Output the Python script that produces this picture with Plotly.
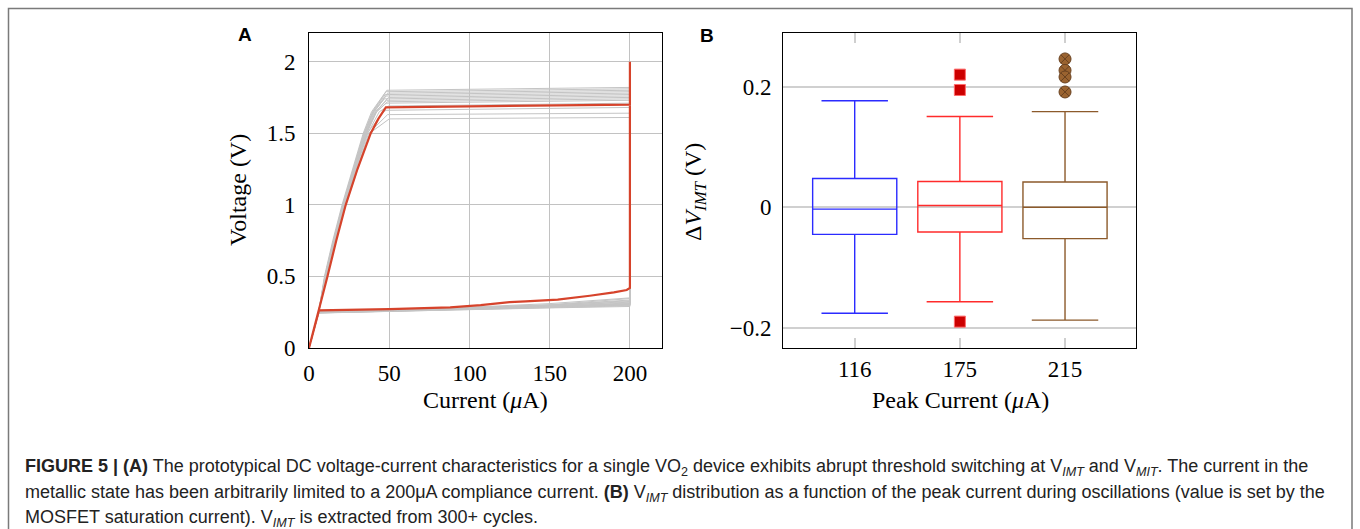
import plotly.graph_objects as go

# ---------------- Panel A data ----------------
# red (prototypical) sweep: current (uA) / voltage (V)
red_current = [0, 6.25, 11.5, 17.0, 22.9, 30.2, 38.5, 43.2, 46.5, 47.9, 100, 150, 200, 200, 200,
               198, 190, 175, 155, 135, 125, 107, 88, 50, 6.25, 0]
red_voltage = [0, 0.263, 0.5, 0.75, 1.0, 1.25, 1.5, 1.6, 1.655, 1.68, 1.688, 1.694, 1.70, 2.0, 0.42,
               0.405, 0.388, 0.365, 0.338, 0.325, 0.32, 0.30, 0.284, 0.272, 0.263, 0]

# gray cycles (one value per cycle)
gray_knee_x      = [48.5, 48.0, 49.0, 47.5, 48.0, 49.5, 47.0, 48.5, 49.0, 48.0, 49.5, 48.0, 49.0, 50.0]
gray_knee_v      = [1.80, 1.79, 1.78, 1.77, 1.76, 1.75, 1.74, 1.73, 1.72, 1.71, 1.69, 1.66, 1.63, 1.60]
gray_end_v       = [1.82, 1.81, 1.80, 1.79, 1.78, 1.77, 1.76, 1.75, 1.74, 1.73, 1.71, 1.68, 1.64, 1.61]
gray_x_at_05v    = [9.6, 9.9, 10.1, 9.9, 10.2, 10.4, 10.0, 10.3, 10.5, 10.2, 10.5, 10.4, 10.7, 10.9]
gray_x_at_075v   = [14.8, 15.2, 15.5, 15.2, 15.7, 16.0, 15.3, 15.8, 16.1, 15.7, 16.2, 16.0, 16.4, 16.7]
gray_x_at_1v     = [20.6, 21.0, 21.4, 21.0, 21.6, 22.0, 21.2, 21.8, 22.2, 21.6, 22.3, 22.0, 22.6, 23.0]
gray_x_at_125v   = [27.0, 27.5, 28.0, 27.5, 28.3, 28.8, 27.7, 28.5, 29.0, 28.4, 29.3, 29.0, 29.8, 30.3]
gray_x_at_15v    = [33.8, 34.3, 34.9, 34.3, 35.3, 35.9, 34.5, 35.4, 36.0, 35.5, 36.6, 36.3, 37.2, 37.8]
gray_x_at_165v   = [39.0, 39.6, 40.3, 39.8, 40.8, 41.6, 40.2, 41.4, 42.2, 42.0, 43.8, 46.5, 49.0, 50.0]
gray_low_start   = [0.245, 0.25, 0.248, 0.255, 0.245, 0.25, 0.252, 0.258, 0.25, 0.246, 0.25, 0.255, 0.248, 0.244]
gray_low_50      = [0.255, 0.26, 0.258, 0.262, 0.256, 0.26, 0.262, 0.266, 0.26, 0.257, 0.26, 0.264, 0.258, 0.255]
gray_low_100     = [0.268, 0.275, 0.272, 0.28, 0.27, 0.276, 0.279, 0.285, 0.274, 0.27, 0.276, 0.282, 0.272, 0.268]
gray_low_150     = [0.28, 0.29, 0.288, 0.3, 0.285, 0.295, 0.3, 0.31, 0.29, 0.286, 0.294, 0.302, 0.288, 0.282]
gray_low_end     = [0.29, 0.305, 0.31, 0.335, 0.3, 0.32, 0.33, 0.35, 0.315, 0.3, 0.325, 0.345, 0.31, 0.295]

# ---------------- Panel B data ----------------
box_pos      = [1, 2, 3]
box_labels   = ["116", "175", "215"]
box_q1       = [-0.045, -0.041, -0.052]
box_median   = [-0.003, 0.003, 0.0]
box_q3       = [0.048, 0.043, 0.042]
box_low      = [-0.176, -0.157, -0.1875]
box_high     = [0.177, 0.151, 0.159]
box_colors   = ["#2b2bff", "#ff2b2b", "#8c5a2b"]
out175_y     = [0.2205, 0.195, -0.19]
out215_y     = [0.2466, 0.2276, 0.2166, 0.1917]

W, H = 1360, 529
def px(x): return x / W
def py(y): return (H - y) / H

fig = go.Figure()

# gray cycles
for i in range(len(gray_knee_x)):
    xs = [0, 6, gray_x_at_05v[i], gray_x_at_075v[i], gray_x_at_1v[i], gray_x_at_125v[i],
          gray_x_at_15v[i], gray_x_at_165v[i], gray_knee_x[i], 200, 200,
          150, 100, 50, 6, 0]
    ys = [0, gray_low_start[i], 0.5, 0.75, 1.0, 1.25, 1.5, min(1.65, gray_knee_v[i]),
          gray_knee_v[i], gray_end_v[i], gray_low_end[i],
          gray_low_150[i], gray_low_100[i], gray_low_50[i], gray_low_start[i], 0]
    fig.add_trace(go.Scatter(x=xs, y=ys, mode="lines", line=dict(color="#c4c4c4", width=1),
                             showlegend=False, hoverinfo="skip", xaxis="x", yaxis="y"))

fig.add_trace(go.Scatter(x=red_current, y=red_voltage, mode="lines",
                         line=dict(color="#d6432b", width=2.2), showlegend=False,
                         xaxis="x", yaxis="y"))

# boxes
for i in range(3):
    fig.add_trace(go.Box(x=[box_pos[i]], q1=[box_q1[i]], median=[box_median[i]], q3=[box_q3[i]],
                         lowerfence=[box_low[i]], upperfence=[box_high[i]],
                         width=0.8, whiskerwidth=0.79,
                         line=dict(color=box_colors[i], width=1.4),
                         fillcolor="rgba(0,0,0,0)", boxpoints=False, showlegend=False,
                         xaxis="x2", yaxis="y2"))

fig.add_trace(go.Scatter(x=[box_pos[1]] * len(out175_y), y=out175_y, mode="markers",
                         marker=dict(symbol="square", size=11, color="#cc0000",
                                     line=dict(color="#ff6a6a", width=1)),
                         showlegend=False, xaxis="x2", yaxis="y2"))
fig.add_trace(go.Scatter(x=[box_pos[2]] * len(out215_y), y=out215_y, mode="markers",
                         marker=dict(symbol="circle-x", size=12, color="#9a6330",
                                     line=dict(color="#6a4220", width=1)),
                         showlegend=False, xaxis="x2", yaxis="y2"))

serif = "Liberation Serif, Times New Roman, serif"
tickfont = dict(family=serif, size=23, color="black")

fig.update_layout(
    width=W, height=H,
    margin=dict(l=0, r=0, t=0, b=0, autoexpand=False),
    paper_bgcolor="white", plot_bgcolor="white",
    xaxis=dict(domain=[px(309), px(662)], range=[0, 220], tickvals=[0, 50, 100, 150, 200],
               showgrid=True, gridcolor="#c2c2c2", gridwidth=1, zeroline=False,
               showline=True, linecolor="black", linewidth=1, mirror=True, ticks="",
               tickfont=tickfont, ticklabelstandoff=4, anchor="y", automargin=False),
    yaxis=dict(domain=[py(348), py(33)], range=[0, 2.2], tickvals=[0, 0.5, 1, 1.5, 2],
               ticktext=["0", "0.5", "1", "1.5", "2"],
               showgrid=True, gridcolor="#c2c2c2", gridwidth=1, zeroline=False,
               showline=True, linecolor="black", linewidth=1, mirror=True, ticks="",
               tickfont=tickfont, ticklabelstandoff=8, anchor="x", automargin=False),
    xaxis2=dict(domain=[px(783), px(1136)], range=[0.318, 3.675], tickvals=box_pos,
                ticktext=box_labels, showgrid=False, zeroline=False,
                showline=True, linecolor="black", linewidth=1, mirror="ticks",
                ticks="inside", ticklen=10, tickwidth=2, tickcolor="#cfcfcf",
                tickfont=tickfont, ticklabelstandoff=0, anchor="y2", automargin=False),
    yaxis2=dict(domain=[py(348), py(33)], range=[-0.2338, 0.2897], tickvals=[-0.2, 0, 0.2],
                ticktext=["\u22120.2", "0", "0.2"],
                showgrid=True, gridcolor="#d0d0d0", gridwidth=2, zeroline=False,
                showline=True, linecolor="black", linewidth=1, mirror=True, ticks="",
                tickfont=tickfont, ticklabelstandoff=6, anchor="x2", automargin=False),
)

ann = []
titlefont = dict(family=serif, size=24, color="black")
ann.append(dict(x=px(485), y=py(400), text="Current (<i>\u03bc</i>A)", font=titlefont))
ann.append(dict(x=px(238), y=py(190), text="Voltage (V)", font=titlefont, textangle=-90))
ann.append(dict(x=px(960), y=py(400), text="Peak Current (<i>\u03bc</i>A)", font=titlefont))
ann.append(dict(x=px(695), y=py(192), text="\u0394<i>V</i><sub><i>IMT</i></sub> (V)",
                font=titlefont, textangle=-90))
labfont = dict(family="Liberation Sans, Arial, sans-serif", size=19, color="black")
ann.append(dict(x=px(244.5), y=py(35), text="<b>A</b>", font=labfont))
ann.append(dict(x=px(707), y=py(35.5), text="<b>B</b>", font=labfont))

capfont = dict(family="Liberation Sans, Arial, sans-serif", size=18, color="#222222")
cap_lines = [
    "<b>FIGURE 5 | (A)</b> The prototypical DC voltage-current characteristics for a single VO<sub>2</sub> device exhibits abrupt threshold switching at V<sub><i>IMT</i></sub> and V<sub><i>MIT</i></sub>. The current in the",
    "metallic state has been arbitrarily limited to a 200\u03bcA compliance current. <b>(B)</b> V<sub><i>IMT</i></sub> distribution as a function of the peak current during oscillations (value is set by the",
    "MOSFET saturation current). V<sub><i>IMT</i></sub> is extracted from 300+ cycles.",
]
cap_y = [467, 493, 518]
for t, yy in zip(cap_lines, cap_y):
    ann.append(dict(x=px(23), y=py(yy), text=t, font=capfont, xanchor="left"))

for a in ann:
    a.setdefault("xref", "paper")
    a.setdefault("yref", "paper")
    a.setdefault("showarrow", False)
    a.setdefault("xanchor", "center")
    a.setdefault("yanchor", "middle")
fig.update_layout(annotations=ann)

fig.add_shape(type="rect", xref="paper", yref="paper", x0=px(8.5), x1=px(1352), y0=-0.2, y1=py(8.5),
              line=dict(color="#7a7a7a", width=1.5), fillcolor="rgba(0,0,0,0)", layer="below")

fig.write_html("out.html")
